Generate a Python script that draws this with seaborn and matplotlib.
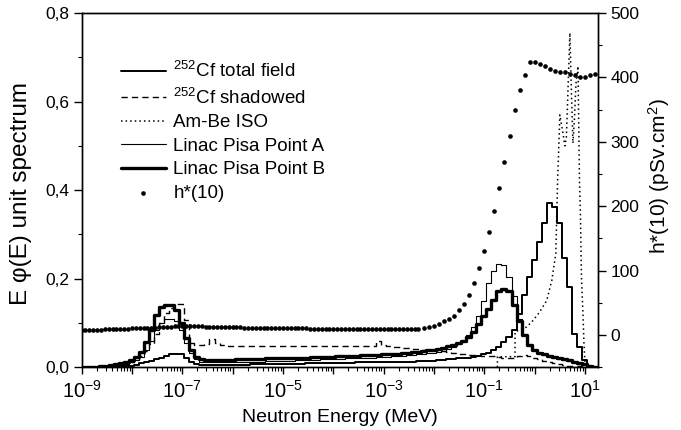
import numpy as np
import pandas as pd
import matplotlib
matplotlib.use("Agg")
import matplotlib.pyplot as plt
import seaborn as sns
from matplotlib.ticker import MultipleLocator, LogLocator, NullFormatter

# ---------------- data ----------------
# spectra: equal-lethargy bins, 10 per decade; bin lower edges (log10 MeV)
bin_edges_log = -8.96 + 0.1 * np.arange(103)

cf_total = [
    0.000, 0.000, 0.000, 0.000, 0.001, 0.001, 0.001, 0.002, 0.003,
    0.004, 0.006, 0.009, 0.012, 0.015, 0.018, 0.021, 0.025, 0.029, 0.030,
    0.029, 0.022, 0.012, 0.007, 0.006, 0.006, 0.006, 0.006, 0.006, 0.006, 0.006,
    0.006, 0.006, 0.006, 0.007, 0.007, 0.007, 0.007, 0.007, 0.007, 0.008,
    0.008, 0.008, 0.008, 0.008, 0.009, 0.009, 0.009, 0.009, 0.009, 0.010,
    0.010, 0.010, 0.010, 0.010, 0.011, 0.011, 0.011, 0.011, 0.011, 0.012,
    0.012, 0.012, 0.012, 0.013, 0.013, 0.013, 0.014, 0.014, 0.014, 0.015,
    0.016, 0.017, 0.018, 0.019, 0.020, 0.021, 0.022, 0.024, 0.026, 0.030,
    0.033, 0.038, 0.046, 0.056, 0.068, 0.085, 0.121, 0.163, 0.204, 0.242,
    0.283, 0.325, 0.370, 0.362, 0.325, 0.246, 0.181, 0.076, 0.046, 0.016,
    0.000, 0.000,
]

cf_shadow = [
    0.000, 0.001, 0.001, 0.002, 0.003, 0.004, 0.005, 0.007, 0.009,
    0.012, 0.017, 0.025, 0.036, 0.052, 0.075, 0.100, 0.122, 0.135, 0.143,
    0.144, 0.106, 0.054, 0.050, 0.050, 0.052, 0.063, 0.055, 0.050, 0.049, 0.049,
    0.049, 0.049, 0.049, 0.048, 0.048, 0.048, 0.048, 0.048, 0.048, 0.048,
    0.048, 0.048, 0.048, 0.048, 0.048, 0.048, 0.048, 0.048, 0.048, 0.048,
    0.048, 0.048, 0.048, 0.048, 0.048, 0.048, 0.048, 0.048, 0.059, 0.051,
    0.047, 0.046, 0.045, 0.044, 0.043, 0.042, 0.041, 0.040, 0.040, 0.039,
    0.038, 0.036, 0.034, 0.033, 0.031, 0.029, 0.028, 0.027, 0.027, 0.026,
    0.026, 0.025, 0.024, 0.021, 0.020, 0.020, 0.025, 0.028, 0.026, 0.022,
    0.018, 0.015, 0.012, 0.010, 0.008, 0.006, 0.004, 0.003, 0.002, 0.001,
    0.000, 0.000,
]

linac_a = [
    0.000, 0.000, 0.001, 0.001, 0.002, 0.003, 0.004, 0.006, 0.008,
    0.011, 0.016, 0.024, 0.038, 0.060, 0.085, 0.100, 0.108, 0.110, 0.105,
    0.085, 0.055, 0.032, 0.018, 0.013, 0.012, 0.012, 0.012, 0.012, 0.012, 0.012,
    0.012, 0.012, 0.013, 0.013, 0.013, 0.013, 0.014, 0.014, 0.014, 0.015,
    0.015, 0.015, 0.016, 0.016, 0.016, 0.017, 0.017, 0.018, 0.018, 0.019,
    0.019, 0.019, 0.020, 0.020, 0.021, 0.021, 0.022, 0.022, 0.023, 0.023,
    0.024, 0.025, 0.025, 0.026, 0.027, 0.028, 0.029, 0.030, 0.032, 0.033,
    0.035, 0.037, 0.041, 0.046, 0.052, 0.060, 0.072, 0.090, 0.115, 0.150,
    0.190, 0.218, 0.234, 0.232, 0.204, 0.160, 0.110, 0.075, 0.052, 0.040,
    0.032, 0.028, 0.025, 0.022, 0.019, 0.017, 0.014, 0.011, 0.008, 0.006,
    0.003, 0.001,
]

linac_b = [
    0.000, 0.001, 0.001, 0.002, 0.003, 0.005, 0.007, 0.009, 0.012,
    0.016, 0.024, 0.035, 0.057, 0.085, 0.118, 0.136, 0.141, 0.140, 0.129,
    0.100, 0.066, 0.040, 0.024, 0.018, 0.017, 0.017, 0.017, 0.017, 0.017, 0.017,
    0.018, 0.018, 0.018, 0.019, 0.019, 0.019, 0.020, 0.020, 0.020, 0.021,
    0.021, 0.021, 0.022, 0.022, 0.022, 0.023, 0.023, 0.023, 0.024, 0.024,
    0.025, 0.025, 0.025, 0.026, 0.026, 0.027, 0.027, 0.028, 0.028, 0.029,
    0.030, 0.030, 0.031, 0.032, 0.033, 0.034, 0.035, 0.036, 0.038, 0.040,
    0.042, 0.044, 0.047, 0.051, 0.055, 0.060, 0.068, 0.080, 0.098, 0.115,
    0.132, 0.152, 0.172, 0.176, 0.172, 0.140, 0.105, 0.072, 0.050, 0.040,
    0.032, 0.029, 0.026, 0.023, 0.021, 0.019, 0.016, 0.013, 0.010, 0.007,
    0.004, 0.001,
]

# Am-Be ISO spectrum (log10 E in MeV, value)
ambe_logE = [-0.74, -0.74, -0.39, -0.39, -0.16, -0.03, 0.10, 0.24, 0.34, 0.42,
             0.455, 0.48, 0.50, 0.53, 0.56, 0.60, 0.63, 0.66, 0.70, 0.73,
             0.76, 0.79, 0.82, 0.86, 0.89, 0.91, 0.93, 0.96, 0.98, 1.00, 1.05]
ambe_val = [0.000, 0.024, 0.024, 0.080, 0.091, 0.106, 0.125, 0.151, 0.196, 0.257,
            0.420, 0.500, 0.570, 0.550, 0.530, 0.500, 0.520, 0.620, 0.755, 0.620,
            0.506, 0.560, 0.640, 0.680, 0.420, 0.340, 0.200, 0.120, 0.050, 0.010, 0.000]

# h*(10) conversion coefficients (pSv cm2)
h_low_logE = -9 + np.arange(88) / 13
h_low = [
    7.4, 7.6, 7.8, 8.0, 8.3, 8.5, 8.7, 8.9, 9.1, 9.3, 9.6, 9.8, 10.0,
    10.3, 10.5, 10.7, 10.9, 11.1, 11.4, 11.7, 12.0, 12.4, 12.8, 13.1, 13.4, 13.6,
    13.7, 13.7, 13.7, 13.7, 13.6, 13.5, 13.3, 13.1, 12.9, 12.7, 12.5, 12.3, 12.1,
    12.0, 11.9, 11.8, 11.7, 11.6, 11.5, 11.5, 11.4, 11.3, 11.3, 11.2, 11.2, 11.1,
    11.0, 10.9, 10.8, 10.6, 10.5, 10.4, 10.3, 10.2, 10.1, 10.0, 10.0, 9.9, 9.9,
    9.8, 9.8, 9.7, 9.6, 9.6, 9.5, 9.5, 9.4, 9.4, 9.3, 9.3, 9.2, 9.2,
    9.1, 9.1, 9.0, 9.0, 9.0, 9.0, 9.0, 9.1, 9.3, 9.8,
]
h_fast_logE = np.round(-2.2 + 0.1 * np.arange(35), 2)
h_fast = [
    11.1, 12.7, 14.7, 17.3, 21.4, 25.6, 30.2, 39, 49, 63, 81, 104, 131, 160,
    193, 229, 268, 309, 350, 380, 404, 424, 424, 421, 417, 413, 410, 409, 408,
    405, 403, 400, 400, 403, 406,
]

legend_labels = ["$^{252}$Cf total field", "$^{252}$Cf shadowed", "Am-Be ISO",
                 "Linac Pisa Point A", "Linac Pisa Point B", "h*(10)"]
xtick_exp = list(range(-9, 2))
xtick_labels = ["$10^{-9}$", "", "$10^{-7}$", "", "$10^{-5}$", "", "$10^{-3}$", "",
                "$10^{-1}$", "", "$10^{1}$"]
ytick_vals = [0.0, 0.2, 0.4, 0.6, 0.8]
ytick_labels = ["0,0", "0,2", "0,4", "0,6", "0,8"]
y2tick_vals = [0, 100, 200, 300, 400, 500]

# ---------------- style ----------------
sns.set_theme(style="ticks")
plt.rcParams["font.family"] = ["Liberation Sans", "DejaVu Sans"]
plt.rcParams["mathtext.fontset"] = "custom"
plt.rcParams["mathtext.rm"] = "Liberation Sans"
plt.rcParams["mathtext.it"] = "Liberation Sans:italic"
plt.rcParams["mathtext.bf"] = "Liberation Sans:bold"
plt.rcParams["mathtext.default"] = "regular"
plt.rcParams["axes.edgecolor"] = "black"
plt.rcParams["axes.linewidth"] = 1.0
plt.rcParams["xtick.color"] = "black"
plt.rcParams["ytick.color"] = "black"
plt.rcParams["text.color"] = "black"
plt.rcParams["axes.labelcolor"] = "black"

fig = plt.figure(figsize=(6.81, 4.30), dpi=100)
L, R, B, T = 81.6 / 681, 598 / 681, 1 - 367.3 / 430, 1 - 13 / 430
ax = fig.add_axes([L, B, R - L, T - B])
ax.set_xscale("log")


def step_frame(vals):
    return pd.DataFrame({"E": 10.0 ** bin_edges_log,
                         "v": list(vals) + [vals[-1]]})


styles = [
    (cf_total, dict(lw=1.4, linestyle="-")),
    (cf_shadow, dict(lw=1.0, linestyle=(0, (4.5, 3)))),
    (None, dict(lw=1.1, linestyle=(0, (1, 2)))),
    (linac_a, dict(lw=0.8, linestyle="-")),
    (linac_b, dict(lw=2.4, linestyle="-")),
]
for (vals, st), lab in zip(styles, legend_labels[:5]):
    if vals is None:
        df = pd.DataFrame({"E": 10.0 ** np.array(ambe_logE), "v": ambe_val})
        sns.lineplot(data=df, x="E", y="v", ax=ax, color="black", estimator=None,
                     sort=False, label=lab, **st)
    else:
        sns.lineplot(data=step_frame(vals), x="E", y="v", ax=ax, color="black",
                     estimator=None, sort=False, drawstyle="steps-post",
                     label=lab, **st)

ax.set_xlim(1e-9, 10 ** 1.258)
ax.set_ylim(0, 0.8)
ax.set_xticks([10.0 ** e for e in xtick_exp])
ax.set_xticklabels(xtick_labels)
ax.xaxis.set_minor_locator(LogLocator(base=10, subs=np.arange(2, 10), numticks=30))
ax.xaxis.set_minor_formatter(NullFormatter())
ax.set_yticks(ytick_vals)
ax.set_yticklabels(ytick_labels)
ax.yaxis.set_minor_locator(MultipleLocator(0.1))
ax.tick_params(axis="x", which="major", direction="out", length=5, width=1,
               labelsize=14.5, pad=4, top=False)
ax.tick_params(axis="x", which="minor", direction="out", length=3, width=0.8, top=False)
ax.tick_params(axis="y", which="major", direction="out", length=6, width=1,
               labelsize=12.5, pad=3, right=False)
ax.tick_params(axis="y", which="minor", direction="out", length=3, width=0.8, right=False)

ax.set_xlabel("Neutron Energy (MeV)", fontsize=14)
ax.xaxis.set_label_coords(0.5, -0.118)
ax.set_ylabel("E φ(E) unit spectrum", fontsize=17.5)
ax.yaxis.set_label_coords(-0.097, 0.49)

ax2 = ax.twinx()
hdf = pd.DataFrame({"E": 10.0 ** np.concatenate([h_low_logE, h_fast_logE]),
                    "h": list(h_low) + list(h_fast)})
sns.scatterplot(data=hdf, x="E", y="h", ax=ax2, color="black", s=11,
                linewidth=0, label=legend_labels[5])
ax2.set_ylim(-50, 500)
ax2.set_yticks(y2tick_vals)
ax2.yaxis.set_minor_locator(MultipleLocator(50))
ax2.tick_params(axis="y", which="major", direction="out", length=6, width=1,
                labelsize=12.5, pad=3)
ax2.tick_params(axis="y", which="minor", direction="out", length=3, width=0.8)
ax2.set_ylabel("h*(10) (pSv.cm$^{2}$)", fontsize=15)
ax2.yaxis.set_label_coords(1.093, 0.54)
for sp in ax2.spines.values():
    sp.set_color("black")
    sp.set_linewidth(1.0)

h1, l1 = ax.get_legend_handles_labels()
h2, l2 = ax2.get_legend_handles_labels()
if ax.get_legend() is not None:
    ax.get_legend().remove()
ax2.legend(h1 + h2, l1 + l2, loc="upper left", bbox_to_anchor=(0.076, 0.864),
           frameon=False, fontsize=13.5, handlelength=2.4, handletextpad=0.4,
           labelspacing=0.34, borderpad=0, borderaxespad=0, scatterpoints=1)

fig.savefig("out.png", dpi=100)
